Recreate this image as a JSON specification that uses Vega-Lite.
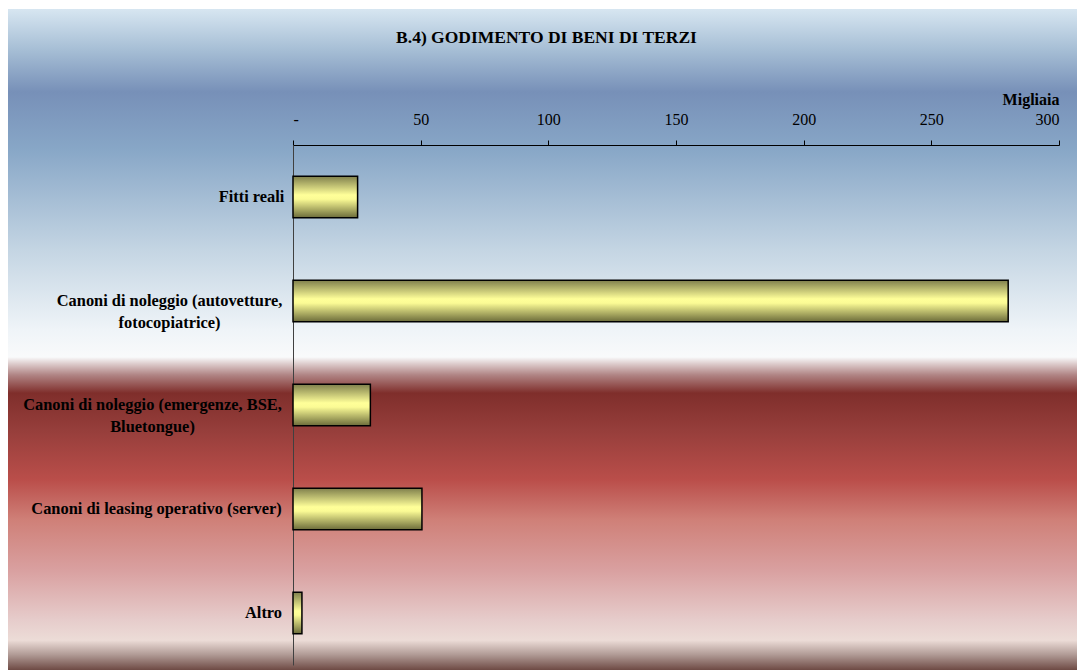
{
  "$schema": "https://vega.github.io/schema/vega-lite/v6.json",
  "width": 1069,
  "height": 661,
  "autosize": {"type": "none"},
  "padding": {"left": 8, "top": 9, "right": 1, "bottom": 0},
  "background": "white",
  "title": {
    "text": "B.4) GODIMENTO DI BENI DI TERZI",
    "font": "Liberation Serif",
    "fontSize": 17.5,
    "fontWeight": "bold",
    "color": "black",
    "anchor": "middle",
    "dx": 4,
    "offset": -37
  },
  "data": {
    "values": [
      {"voce": "Fitti reali", "valore": 25.3},
      {"voce": "Canoni di noleggio (autovetture, fotocopiatrice)", "valore": 280.1},
      {"voce": "Canoni di noleggio (emergenze, BSE, Bluetongue)", "valore": 30.3},
      {"voce": "Canoni di leasing operativo (server)", "valore": 50.5},
      {"voce": "Altro", "valore": 3.5}
    ]
  },
  "mark": {
    "type": "bar",
    "stroke": "black",
    "strokeWidth": 1.5,
    "fill": {
      "gradient": "linear",
      "x1": 0, "y1": 0, "x2": 0, "y2": 1,
      "stops": [
        {"offset": 0, "color": "#7f7f4c"},
        {"offset": 0.45, "color": "#ffff99"},
        {"offset": 0.55, "color": "#fbfb95"},
        {"offset": 1, "color": "#6b6b3a"}
      ]
    }
  },
  "encoding": {
    "y": {
      "field": "voce",
      "type": "nominal",
      "sort": null,
      "scale": {"range": [136, 656], "paddingInner": 0.6, "paddingOuter": 0.3},
      "axis": {
        "orient": "left",
        "offset": -285,
        "title": null,
        "ticks": false,
        "domainColor": "#404040",
        "domainWidth": 1,
        "labelFont": "Liberation Serif",
        "labelFontSize": 16.4,
        "labelFontWeight": "bold",
        "labelColor": "black",
        "labelLimit": 0,
        "labelLineHeight": 22,
        "labelBaseline": "middle",
        "labelAlign": "center",
        "labelPadding": {
          "condition": [
            {"test": "datum.value == 'Fitti reali'", "value": 42},
            {"test": "datum.value == 'Canoni di noleggio (autovetture, fotocopiatrice)'", "value": 124},
            {"test": "datum.value == 'Canoni di noleggio (emergenze, BSE, Bluetongue)'", "value": 141},
            {"test": "datum.value == 'Canoni di leasing operativo (server)'", "value": 137}
          ],
          "value": 30
        },
        "labelExpr": "datum.label == 'Canoni di noleggio (autovetture, fotocopiatrice)' ? ['Canoni di noleggio (autovetture,', 'fotocopiatrice)'] : datum.label == 'Canoni di noleggio (emergenze, BSE, Bluetongue)' ? ['Canoni di noleggio (emergenze, BSE,', 'Bluetongue)'] : datum.label"
      }
    },
    "x": {
      "field": "valore",
      "type": "quantitative",
      "scale": {"domain": [0, 300], "range": [285, 1051], "nice": false, "zero": true},
      "axis": {
        "orient": "top",
        "offset": -136,
        "values": [0, 50, 100, 150, 200, 250, 300],
        "format": "d",
        "labelExpr": "datum.value == 0 ? '-' : datum.label",
        "grid": false,
        "domainColor": "black",
        "domainWidth": 1,
        "tickColor": "black",
        "tickWidth": 1,
        "tickSize": 5,
        "labelPadding": 13,
        "labelFont": "Liberation Serif",
        "labelFontSize": 16,
        "labelColor": "black",
        "title": "Migliaia",
        "titleFont": "Liberation Serif",
        "titleFontSize": 16,
        "titleFontWeight": "bold",
        "titleColor": "black",
        "titleAnchor": "end",
        "titleAlign": "right",
        "titlePadding": 4
      }
    }
  },
  "config": {
    "view": {
      "stroke": null,
      "fill": {
        "gradient": "linear",
        "x1": 0, "y1": 0, "x2": 0, "y2": 1,
        "stops": [
          {"offset": 0, "color": "#d7e6f1"},
          {"offset": 0.062, "color": "#a6bed5"},
          {"offset": 0.1256, "color": "#7790b8"},
          {"offset": 0.2133, "color": "#88a7c7"},
          {"offset": 0.3646, "color": "#c4d5e3"},
          {"offset": 0.4856, "color": "#eff4f8"},
          {"offset": 0.5265, "color": "#f9fafb"},
          {"offset": 0.5386, "color": "#d8c4c4"},
          {"offset": 0.5537, "color": "#b08484"},
          {"offset": 0.581, "color": "#7f2e2b"},
          {"offset": 0.637, "color": "#963e3b"},
          {"offset": 0.7126, "color": "#ba4e4a"},
          {"offset": 0.773, "color": "#cf8078"},
          {"offset": 0.849, "color": "#d9a0a0"},
          {"offset": 0.924, "color": "#e6cccb"},
          {"offset": 0.955, "color": "#ecdcd7"},
          {"offset": 0.977, "color": "#b09a95"},
          {"offset": 1, "color": "#6e4a44"}
        ]
      }
    }
  }
}
